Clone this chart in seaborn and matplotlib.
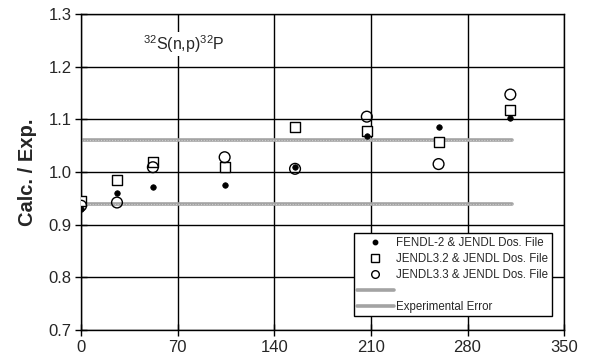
import numpy as np
import pandas as pd
import seaborn as sns
import matplotlib
matplotlib.use("Agg")
import matplotlib.pyplot as plt
from matplotlib.lines import Line2D

# data
x_pos = [0, 26, 52, 104, 155, 207, 259, 311]
fendl2 = [0.929, 0.960, 0.971, 0.975, 1.010, 1.068, 1.086, 1.103]
jendl32 = [0.945, 0.985, 1.018, 1.010, 1.085, 1.078, 1.056, 1.118]
jendl33 = [0.936, 0.942, 1.009, 1.028, 1.006, 1.105, 1.015, 1.147]
err_x = [0, 312]
err_upper = [1.06, 1.06]
err_lower = [0.94, 0.94]

labels = ["FENDL-2 & JENDL Dos. File",
          "JENDL3.2 & JENDL Dos. File",
          "JENDL3.3 & JENDL Dos. File"]

sns.set_theme(style="white")
plt.rcParams['font.family'] = ['Liberation Sans', 'DejaVu Sans']
plt.rcParams['mathtext.fontset'] = 'custom'
plt.rcParams['mathtext.rm'] = 'Liberation Sans'

fig = plt.figure(figsize=(5.92, 3.6), dpi=100)
ax = fig.add_axes([0.137, 0.0833, 0.816, 0.878])

# experimental error lines
sns.lineplot(x=err_x, y=err_upper, ax=ax, color="#a3a3a3", lw=2.6, zorder=2)
sns.lineplot(x=err_x, y=err_lower, ax=ax, color="#a3a3a3", lw=2.6, zorder=2)
for y in (err_upper, err_lower):
    ax.plot(err_x, y, color="#d0d0d0", lw=0.8, ls=(0, (1, 1.5)), zorder=2)

sns.scatterplot(x=x_pos, y=fendl2, ax=ax, marker="o", s=16, color="black",
                edgecolor="black", linewidth=0.5, zorder=4)
sns.scatterplot(x=x_pos, y=jendl32, ax=ax, marker="s", s=55, facecolor="white",
                edgecolor="black", linewidth=1.0, zorder=3)
sns.scatterplot(x=x_pos, y=jendl33, ax=ax, marker="o", s=60, facecolor="none",
                edgecolor="black", linewidth=1.0, zorder=5)

ax.set_xlim(0, 350)
ax.set_ylim(0.7, 1.3)
ax.set_xticks(np.arange(0, 351, 70))
ax.set_yticks(np.arange(0.7, 1.31, 0.1))
ax.yaxis.set_major_formatter(matplotlib.ticker.FormatStrFormatter('%.1f'))
ax.grid(True, color="black", lw=1.0)
ax.set_axisbelow(True)
for sp in ax.spines.values():
    sp.set_color("black")
    sp.set_linewidth(1.0)
ax.tick_params(axis="both", direction="inout", length=8, width=1, color="black",
               labelsize=12, left=True, bottom=True, pad=3)
ax.set_ylabel("Calc. / Exp.", fontsize=14.5, fontweight="bold", labelpad=8)
ax.set_xlabel("")

ax.text(0.213, 0.905, r"$^{32}$S(n,p)$^{32}$P", transform=ax.transAxes,
        fontsize=11.5, ha="center", va="center",
        bbox=dict(facecolor="white", edgecolor="none", pad=1))

# legend
handles = [
    Line2D([], [], marker="o", ls="none", color="black", markersize=3.2),
    Line2D([], [], marker="s", ls="none", mfc="white", mec="black", markersize=5.5),
    Line2D([], [], marker="o", ls="none", mfc="white", mec="black", markersize=5.5),
    Line2D([], [], color="#a3a3a3", lw=2.6),
    Line2D([], [], color="#a3a3a3", lw=2.6),
]
leg = ax.legend(handles, labels + ["", "Experimental Error"], loc="lower right",
                bbox_to_anchor=(0.986, 0.025), fontsize=8.3, frameon=True,
                fancybox=False, framealpha=1, edgecolor="black",
                handlelength=3.2, handletextpad=0.2, borderpad=0.3,
                labelspacing=0.35)
leg.get_frame().set_linewidth(1.0)

fig.savefig("out.png", dpi=100)
